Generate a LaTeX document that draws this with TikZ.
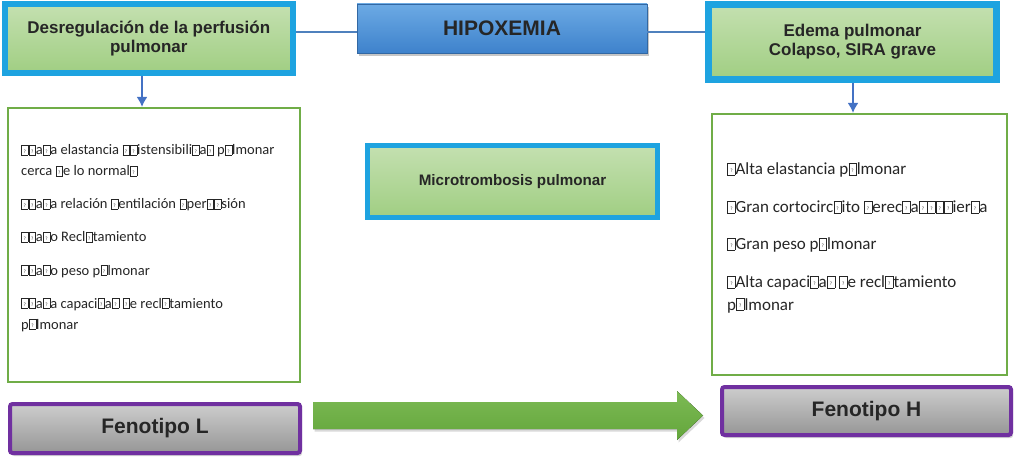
\documentclass[tikz,border=0pt]{standalone}
\usepackage{fontspec}
\setmainfont{Carlito}
\newfontfamily\arialf{Liberation Sans}
\usetikzlibrary{shadows,calc,arrows.meta}
\definecolor{frameblue}{RGB}{30,163,224}
\definecolor{gtop}{RGB}{196,224,176}
\definecolor{gbot}{RGB}{160,206,130}
\definecolor{linkblue}{RGB}{79,129,189}
\definecolor{arrowblue}{RGB}{68,114,196}
\definecolor{boxgreen}{RGB}{112,173,71}
\definecolor{purp}{RGB}{112,48,160}
\definecolor{txt}{RGB}{38,38,38}
\definecolor{hiptop}{RGB}{108,170,228}
\definecolor{hipbot}{RGB}{62,130,204}
\definecolor{graytop}{RGB}{205,205,205}
\definecolor{graybot}{RGB}{150,150,150}
\definecolor{arrtop}{RGB}{124,186,84}
\definecolor{arrbot}{RGB}{100,166,60}
\newcommand\qq{\begingroup\setlength{\fboxsep}{0pt}\setlength{\fboxrule}{0.4pt}\kern0.25pt\fbox{\makebox[0.42em][c]{\rule{0pt}{0.68em}\raisebox{0.12em}{\fontsize{5}{5}\selectfont ?}}}\kern0.25pt\endgroup}
\begin{document}
\begin{tikzpicture}[x=1pt,y=-1pt,
  cyanbox/.style={draw=frameblue, line width=6pt, top color=gtop, bottom color=gbot,
    align=center, text=txt, inner sep=0pt},
  hdr/.style={font=\arialf\bfseries\fontsize{17}{19}\selectfont},
  hipbox/.style={draw=hipbot!80!black, line width=0.6pt, top color=hiptop, bottom color=hipbot,
    text=txt, font=\arialf\bfseries\fontsize{21}{24}\selectfont,
    drop shadow={opacity=0.45, shadow xshift=2pt, shadow yshift=-3pt}},
  listbox/.style={draw=boxgreen, line width=2pt, fill=white},
  phenobox/.style={draw=purp, line width=4pt, rounded corners=2.5pt, top color=graytop, bottom color=graybot,
    text=txt, font=\arialf\bfseries\fontsize{21}{24}\selectfont,
    drop shadow={opacity=0.35, shadow xshift=2pt, shadow yshift=-3pt}},
  link/.style={draw=linkblue, line width=1.8pt},
  downarrow/.style={draw=arrowblue, line width=2.5pt, -{Latex[length=10pt,width=11pt]}},
  ltext/.style={anchor=base west, align=left, inner sep=0pt, text=txt, font=\fontsize{14.5}{21}\selectfont},
  rtext/.style={anchor=base west, align=left, inner sep=0pt, text=txt, font=\fontsize{17}{22.5}\selectfont}
]
\useasboundingbox (0,0) rectangle (1020,465);

% top row
\node[cyanbox, hdr, minimum width=288.5pt, minimum height=69pt] (lb) at (148.75,39)
  {Desregulación de la perfusión\\pulmonar};
\node[hipbox, minimum width=290pt, minimum height=49pt] (hip) at (502,28.5) {HIPOXEMIA};
\node[cyanbox, hdr, line width=6.5pt, minimum width=288pt, minimum height=75pt] (rb) at (852.5,42)
  {Edema pulmonar\\Colapso, SIRA grave};

\draw[link] ([yshift=-3.5pt]hip.west) -- ([yshift=-3.5pt]hip.west -| lb.east);
\draw[link] ([yshift=-3.5pt]hip.east) -- ([yshift=-3.5pt]hip.east -| rb.west);

% list boxes
\node[listbox, minimum width=292pt, minimum height=274pt] (lg) at (154,245) {};
\node[listbox, minimum width=295pt, minimum height=261pt] (rg) at (859.5,244.5) {};

\draw[downarrow] ([xshift=-6.75pt]lb.south) -- ([xshift=-6.75pt]lb.south |- lg.north);
\draw[downarrow] ([xshift=0.5pt]rb.south) -- ([xshift=0.5pt]rb.south |- rg.north);

% middle box
\node[cyanbox, line width=5pt, minimum width=290pt, minimum height=72pt,
  font=\arialf\bfseries\fontsize{15.2}{18}\selectfont] (mt) at (512.5,182) {Microtrombosis pulmonar};

% left list (base anchor = last line)
\node[ltext] (l1) at (21,176) {\qq\qq a\qq a elastancia \qq\qq istensibili\qq a\qq\ p\qq lmonar\\cerca \qq e lo normal\qq};
\node[ltext] (l2) at (21,209) {\qq\qq a\qq a relación \qq entilación \qq per\qq\qq sión};
\node[ltext] (l3) at (21,242) {\qq\qq a\qq o Recl\qq tamiento};
\node[ltext] (l4) at (21,275) {\qq\qq a\qq o peso p\qq lmonar};
\node[ltext] (l5) at (21,329) {\qq\qq a\qq a capaci\qq a\qq\ \qq e recl\qq tamiento\\p\qq lmonar};

% right list
\node[rtext] (r1) at (727,175) {\qq Alta elastancia p\qq lmonar};
\node[rtext] (r2) at (727,213) {\qq Gran cortocirc\qq ito \qq erec\qq a\qq\qq\qq\qq ier\qq a};
\node[rtext] (r3) at (727,250) {\qq Gran peso p\qq lmonar};
\node[rtext] (r4) at (727,310) {\qq Alta capaci\qq a\qq\ \qq e recl\qq tamiento\\p\qq lmonar};

% phenotypes
\node[phenobox, minimum width=290pt, minimum height=49pt] (fl) at (155,428.5) {Fenotipo L};
\node[phenobox, minimum width=289pt, minimum height=48pt] (fh) at (866.5,411) {Fenotipo H};

% big arrow
\coordinate (aS) at (313,415.5);
\coordinate (aE) at (703,415.5);
\fill[top color=arrtop, bottom color=arrbot,
  drop shadow={opacity=0.3, shadow xshift=1.5pt, shadow yshift=-2.5pt}]
  ($(aS)+(0,-13.5)$) -- ($(aE)+(-26,-13.5)$) -- ($(aE)+(-26,-24.5)$) -- (aE)
  -- ($(aE)+(-26,24.5)$) -- ($(aE)+(-26,13.5)$) -- ($(aS)+(0,13.5)$) -- cycle;
\end{tikzpicture}
\end{document}
